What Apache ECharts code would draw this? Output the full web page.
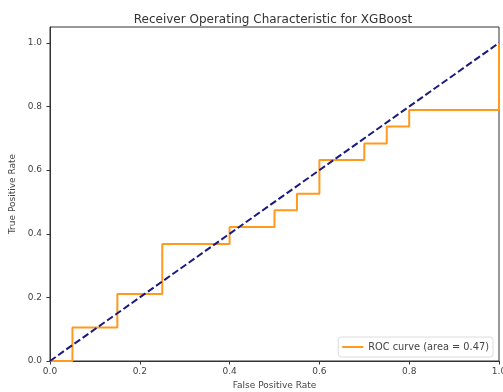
<!DOCTYPE html>
<html><head><meta charset="utf-8">
<script src="https://cdn.jsdelivr.net/npm/echarts@6/dist/echarts.min.js"></script>
<style>html,body{margin:0;padding:0;background:#fff}#c{width:503px;height:392px}</style>
</head><body><div id="c"></div>
<script>
var fpr = [0, 0.05, 0.05, 0.15, 0.15, 0.25, 0.25, 0.40, 0.40, 0.50, 0.50, 0.55, 0.55, 0.60, 0.60, 0.70, 0.70, 0.75, 0.75, 0.80, 0.80, 1.00, 1.00];
var tpr = [0, 0, 0.105, 0.105, 0.211, 0.211, 0.368, 0.368, 0.421, 0.421, 0.474, 0.474, 0.526, 0.526, 0.632, 0.632, 0.684, 0.684, 0.737, 0.737, 0.789, 0.789, 1.00];
var diagX = [0, 1];
var diagY = [0, 1];
var ticks = [0, 0.2, 0.4, 0.6, 0.8, 1.0];
var rocName = 'ROC curve (area = 0.47)';
var titleText = 'Receiver Operating Characteristic for XGBoost';

var rocData = fpr.map(function (x, i) { return [x, tpr[i]]; });
var diagData = diagX.map(function (x, i) { return [x, diagY[i]]; });
var font = 'DejaVu Sans';
var chart = echarts.init(document.getElementById('c'), null, {renderer: 'canvas'});
chart.setOption({
  animation: false,
  backgroundColor: '#fff',
  title: {
    text: titleText, left: 268, top: 9, textAlign: 'center',
    textStyle: {fontFamily: font, fontSize: 12, fontWeight: 'normal', color: '#333'}
  },
  grid: {left: 50, right: 4, top: 27, bottom: 31, show: true, borderColor: '#333', borderWidth: 1,
    outerBoundsMode: 'none', containLabel: false},
  legend: {
    data: [rocName], right: 10, bottom: 35, orient: 'vertical',
    icon: 'rect', itemWidth: 21, itemHeight: 2, itemGap: 0,
    backgroundColor: 'rgba(255,255,255,0.8)', borderColor: '#dcdcdc', borderWidth: 1, borderRadius: 3,
    padding: [5, 4, 5, 4],
    textStyle: {fontFamily: font, fontSize: 9.8, color: '#444'}
  },
  xAxis: {
    type: 'value', min: 0, max: 1, interval: 0.2,
    name: 'False Positive Rate', nameLocation: 'middle', nameGap: 20,
    nameTextStyle: {fontFamily: font, fontSize: 9, color: '#444'},
    splitLine: {show: false},
    axisLine: {show: true, onZero: false, lineStyle: {color: '#333', width: 1}},
    axisTick: {show: true, length: 3.5, customValues: ticks, lineStyle: {color: '#333'}},
    axisLabel: {customValues: ticks, margin: 6, fontFamily: font, fontSize: 9, color: '#444',
      formatter: function (v) { return v.toFixed(1); }}
  },
  yAxis: {
    type: 'value', min: 0, max: 1.05, interval: 0.2,
    name: 'True Positive Rate', nameLocation: 'middle', nameGap: 31, nameRotate: 90,
    nameTextStyle: {fontFamily: font, fontSize: 9, color: '#444'},
    splitLine: {show: false},
    axisLine: {show: true, onZero: false, lineStyle: {color: '#333', width: 1}},
    axisTick: {show: true, length: 3.5, customValues: ticks, lineStyle: {color: '#333'}},
    axisLabel: {customValues: ticks, margin: 8, fontFamily: font, fontSize: 9, color: '#444',
      formatter: function (v) { return v.toFixed(1); }}
  },
  series: [
    {
      name: rocName, type: 'line', data: rocData, symbol: 'none', clip: false,
      lineStyle: {color: '#FF9A1F', width: 2}, itemStyle: {color: '#FF9A1F'}, z: 2
    },
    {
      type: 'line', data: diagData, symbol: 'none', clip: false,
      lineStyle: {color: '#1a1a80', width: 2, type: [7, 3]}, z: 3
    }
  ]
});
</script></body></html>
